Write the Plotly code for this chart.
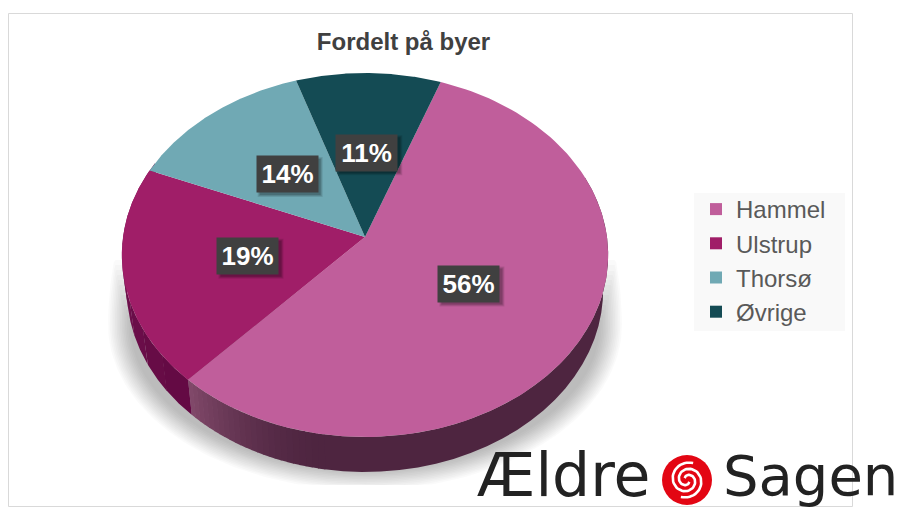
import numpy as np
import plotly.graph_objects as go

# ---- data (labels show these rounded) ----
cities = ["Hammel", "Ulstrup", "Thorsø", "Øvrige"]
shares = [56.3, 19.4, 13.7, 10.6]
colors = ["#c05e9b", "#a01e68", "#70a9b4", "#144b54"]

W, H = 899, 510
CX, CY = 365, 237          # pie apex in pixels
A, B, K = 180.2, 242, 0.0989   # perspective of the tilted disc
DEPTH = 35
ROT = 20


def project(theta_deg, r=1.0, a=A, b=B, cy=CY):
    t = np.radians(theta_deg)
    u, v = r * np.sin(t), r * np.cos(t)
    d = 1 + K * v
    return CX + b * u / d, cy - a * v / d


def rim_lower(theta):
    return project(theta, b=B - 5, cy=CY + DEPTH)


def mix(c1, c2, f):
    return "rgb(%d,%d,%d)" % tuple(round(c1[i] + (c2[i] - c1[i]) * f) for i in range(3))


fig = go.Figure()


def poly(x, y, color):
    fig.add_trace(go.Scatter(x=x, y=y, mode="lines", fill="toself", fillcolor=color,
                             line=dict(width=0), hoverinfo="skip", showlegend=False))


# soft ground shadow
t = np.radians(np.linspace(0, 360, 241))
for i in range(14):
    grow = 20 - i * 1.7
    ry = np.where(np.cos(t) > 0, 300, 147 + grow * 0.9)
    x = CX + (237 + grow) * np.sin(t)
    y = 325 - ry * np.cos(t)
    poly(np.clip(x, 108, 622), np.clip(y, 260 + i * 5, 485), "rgba(0,0,0,0.02)")

# slice angle boundaries
edges = ROT + np.concatenate([[0], np.cumsum(shares)]) * 360 / sum(shares)
mid = (edges[:-1] + edges[1:]) / 2


def wall(t0, t1, color):
    t = np.linspace(t0, t1, 30)
    xt, yt = project(t)
    xb, yb = rim_lower(t)
    poly(np.r_[xt, xb[::-1]], np.r_[yt, yb[::-1]], color)


# side walls: Hammel with its light gradient near the cut, Ulstrup darker
dark, light = (78, 37, 64), (128, 72, 105)
span = 34
wall(70, edges[1] - span + 0.2, mix(dark, dark, 0))
n = 24
for i in range(n):
    t0 = edges[1] - span + span * i / n
    wall(t0, t0 + span / n + 0.2 if i < n - 1 else edges[1], mix(dark, light, (i / (n - 1)) ** 1.6))
# Ulstrup wall gets slightly lighter towards the left
u_dark, u_light = (100, 10, 68), (122, 22, 84)
m = 8
for i in range(m):
    t0 = edges[1] + (295 - edges[1]) * i / m
    wall(t0, t0 + (295 - edges[1]) / m + 0.2, mix(u_dark, u_light, i / (m - 1)))

# top faces
for i, c in enumerate(cities):
    t = np.linspace(edges[i], edges[i + 1], 120)
    x, y = project(t)
    poly(np.r_[CX, x, CX], np.r_[CY, y, CY], colors[i])

# legend entries
for i, c in enumerate(cities):
    fig.add_trace(go.Scatter(x=[None], y=[None], mode="markers", name=c, legendgroup=c,
                             marker=dict(symbol="square", size=12, color=colors[i]),
                             hoverinfo="skip"))

# logo swirl
t = np.linspace(0, 1, 60)
for phase in (0, 180):
    ang = phase + 40 + 430 * t
    r = 3 + 15 * t
    fig.add_trace(go.Scatter(x=687 + r * np.cos(np.radians(ang)), y=480 + r * np.sin(np.radians(ang)),
                             mode="lines", line=dict(color="white", width=2.6), hoverinfo="skip",
                             showlegend=False))

shapes = [
    dict(type="rect", xref="x", yref="y", x0=8.5, x1=852.5, y0=13.5, y1=506.5,
         line=dict(color="#d9d9d9", width=1), fillcolor="white", layer="below"),
    dict(type="rect", xref="x", yref="y", x0=694, x1=845, y0=193, y1=331,
         line=dict(width=0), fillcolor="#f9f9f9", layer="below"),
    dict(type="circle", xref="x", yref="y", x0=662, x1=712, y0=455, y1=505,
         line=dict(width=0), fillcolor="#e30613", layer="below"),
]

annotations = []
for i in range(len(cities)):
    lx, ly = project(mid[i], r=0.49)
    # soft offset shadow under each label box
    for grow, alpha in ((2, 0.10), (1, 0.12), (0, 0.16)):
        shapes.append(dict(type="rect", xref="x", yref="y", layer="above", line=dict(width=0),
                           x0=lx - 29.5 + 2 - grow, x1=lx + 31.5 + 2 + grow,
                           y0=ly - 17.5 + 2 - grow, y1=ly + 18.5 + 2 + grow,
                           fillcolor="rgba(0,0,0,%g)" % alpha))
    annotations.append(dict(x=lx, y=ly, xref="x", yref="y", width=59, height=34, showarrow=False,
                            align="center", valign="middle", text="<b>%.0f%%</b>" % shares[i],
                            bgcolor="#404040",
                            font=dict(color="white", size=26, family="Liberation Sans")))

annotations += [
    dict(x=475, y=475, xref="x", yref="y", text="Ældre", showarrow=False, xanchor="left",
         yanchor="middle", font=dict(family="DejaVu Sans", size=60, color="#222222")),
    dict(x=721, y=475, xref="x", yref="y", text="Sagen", showarrow=False, xanchor="left",
         yanchor="middle", font=dict(family="DejaVu Sans", size=56, color="#222222")),
]

fig.update_layout(
    width=W, height=H, margin=dict(l=0, r=0, t=0, b=0),
    paper_bgcolor="white", plot_bgcolor="white",
    xaxis=dict(range=[0, W], visible=False, fixedrange=True),
    yaxis=dict(range=[H, 0], visible=False, fixedrange=True),
    title=dict(text="<b>Fordelt på byer</b>", x=403.5 / W, y=1 - 42 / H, xanchor="center", yanchor="middle",
               font=dict(family="Liberation Sans", size=24, color="#404040")),
    legend=dict(x=696 / W, y=1 - 187 / H, xanchor="left", yanchor="top", bgcolor="rgba(0,0,0,0)",
                font=dict(family="Liberation Sans", size=24, color="#595959"),
                tracegroupgap=0, itemclick=False, itemdoubleclick=False),
    annotations=annotations, shapes=shapes, showlegend=True,
)

fig.write_html("out.html", config=dict(displayModeBar=False),
               post_script="document.body.style.margin='0';document.body.style.overflow='hidden';")
